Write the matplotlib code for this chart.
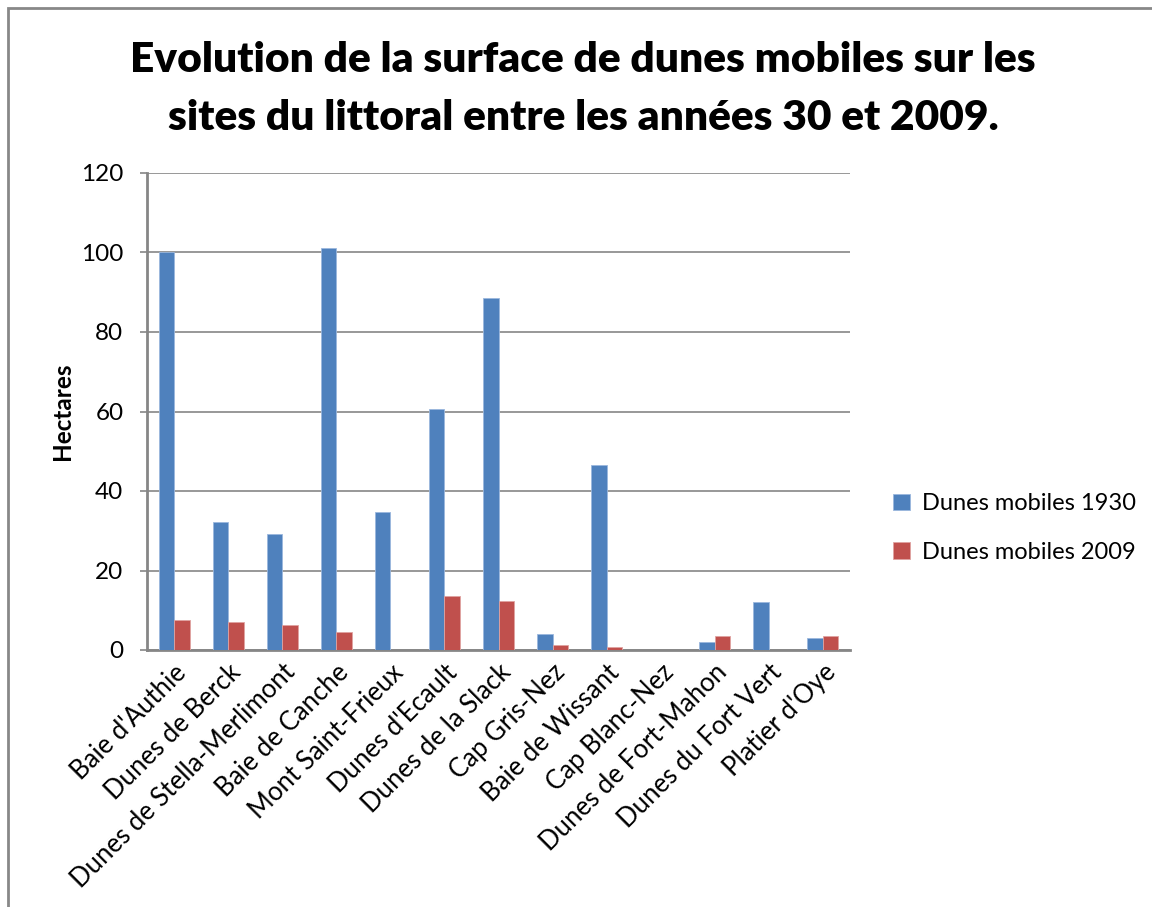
import matplotlib
matplotlib.use("Agg")
import matplotlib.pyplot as plt
import numpy as np
from matplotlib.patches import Rectangle

plt.rcParams["font.family"] = ["Lato", "DejaVu Sans"]

sites = ["Baie d'Authie", "Dunes de Berck", "Dunes de Stella-Merlimont",
         "Baie de Canche", "Mont Saint-Frieux", "Dunes d'Ecault",
         "Dunes de la Slack", "Cap Gris-Nez", "Baie de Wissant",
         "Cap Blanc-Nez", "Dunes de Fort-Mahon", "Dunes du Fort Vert",
         "Platier d'Oye"]
dunes_1930 = [100.0, 32.2, 29.2, 101.1, 34.7, 60.6, 88.6, 4.1, 46.5, 0.0, 1.9, 12.0, 2.9]
dunes_2009 = [7.6, 7.0, 6.4, 4.5, 0.0, 13.5, 12.3, 1.2, 0.7, 0.0, 3.5, 0.0, 3.4]
yticks = [0, 20, 40, 60, 80, 100, 120]

BLUE = "#4F81BD"
RED = "#C0504D"
GRID = "#868686"

fig = plt.figure(figsize=(11.52, 9.07), dpi=100)
ax = fig.add_axes([147 / 1152, 1 - 650 / 907, 703 / 1152, 477 / 907])

x = np.arange(len(sites))
w = 0.286
ax.bar(x - w / 2, dunes_1930, w, color=BLUE, edgecolor="#9BB7DD", linewidth=0.6,
       label="Dunes mobiles 1930", zorder=3)
ax.bar(x + w / 2, dunes_2009, w, color=RED, edgecolor="#E0A3A1", linewidth=0.6,
       label="Dunes mobiles 2009", zorder=3)

ax.set_xlim(-0.5, len(sites) - 0.5)
ax.set_ylim(0, 120)
ax.set_yticks(yticks)
ax.yaxis.grid(True, color=GRID, linewidth=1.2, zorder=0)
ax.tick_params(axis="y", length=5, width=1.2, color=GRID, pad=12, labelsize=17.5)
ax.tick_params(axis="x", length=0, pad=7, labelsize=18.5)
ax.set_xticks(x)
ax.set_xticklabels(sites, rotation=45, ha="right", va="top", rotation_mode="anchor")
for s in ["top", "right"]:
    ax.spines[s].set_visible(False)
for s in ["left", "bottom"]:
    ax.spines[s].set_color(GRID)
    ax.spines[s].set_linewidth(2)

ax.set_ylabel("Hectares", fontsize=17.5, fontweight="bold", labelpad=5)

title_kw = dict(ha="center", va="center", fontsize=30.5, fontweight="heavy")
fig.text(0.506, 1 - 60 / 907,
         "Evolution de la surface de dunes mobiles sur les", **title_kw)
fig.text(0.506, 1 - 118 / 907,
         "sites du littoral entre les années 30 et 2009.", **title_kw)

ax.legend(loc="center left", bbox_to_anchor=(872 / 1152, 1 - 528 / 907),
          bbox_transform=fig.transFigure, frameon=False, fontsize=17,
          handlelength=0.7, handleheight=0.7, handletextpad=0.5,
          labelspacing=1.15)

# outer chart frame
fig.patches.append(Rectangle((8 / 1152, -0.1), 1.2, 1 - 8 / 907 + 0.1,
                             transform=fig.transFigure, fill=False,
                             edgecolor="#888888", linewidth=2))

fig.savefig("out.png", dpi=100)
